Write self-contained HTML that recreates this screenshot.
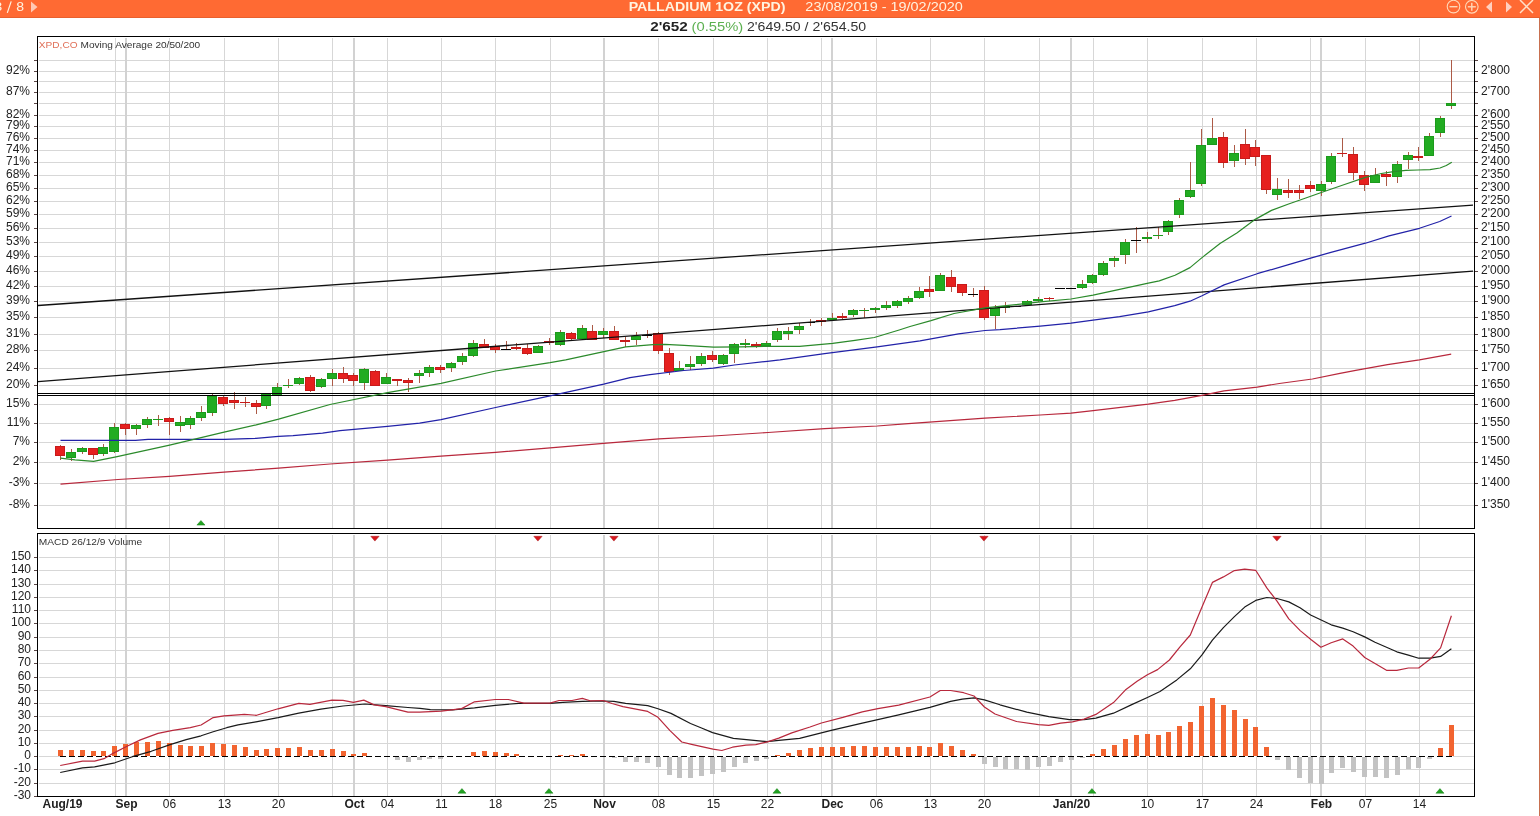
<!DOCTYPE html>
<html><head><meta charset="utf-8"><title>Palladium chart</title>
<style>html,body{margin:0;padding:0;background:#fff;width:1540px;height:816px;overflow:hidden}svg{display:block} svg{will-change:transform}</style>
</head><body>
<svg width="1540" height="816" viewBox="0 0 1540 816">
<rect width="1540" height="816" fill="#fff"/>
<g shape-rendering="crispEdges"><rect x="39" y="505" width="1435" height="1" fill="#d7d7d7"/><rect x="34" y="505" width="3" height="1" fill="#5a4646"/><rect x="1475" y="505" width="3" height="1" fill="#5a4646"/><rect x="39" y="483" width="1435" height="1" fill="#d7d7d7"/><rect x="34" y="483" width="3" height="1" fill="#5a4646"/><rect x="1475" y="483" width="3" height="1" fill="#5a4646"/><rect x="39" y="462" width="1435" height="1" fill="#d7d7d7"/><rect x="34" y="462" width="3" height="1" fill="#5a4646"/><rect x="1475" y="462" width="3" height="1" fill="#5a4646"/><rect x="39" y="442" width="1435" height="1" fill="#d7d7d7"/><rect x="34" y="442" width="3" height="1" fill="#5a4646"/><rect x="1475" y="442" width="3" height="1" fill="#5a4646"/><rect x="39" y="423" width="1435" height="1" fill="#d7d7d7"/><rect x="34" y="423" width="3" height="1" fill="#5a4646"/><rect x="1475" y="423" width="3" height="1" fill="#5a4646"/><rect x="39" y="404" width="1435" height="1" fill="#d7d7d7"/><rect x="34" y="404" width="3" height="1" fill="#5a4646"/><rect x="1475" y="404" width="3" height="1" fill="#5a4646"/><rect x="39" y="385" width="1435" height="1" fill="#d7d7d7"/><rect x="34" y="385" width="3" height="1" fill="#5a4646"/><rect x="1475" y="385" width="3" height="1" fill="#5a4646"/><rect x="39" y="368" width="1435" height="1" fill="#d7d7d7"/><rect x="34" y="368" width="3" height="1" fill="#5a4646"/><rect x="1475" y="368" width="3" height="1" fill="#5a4646"/><rect x="39" y="350" width="1435" height="1" fill="#d7d7d7"/><rect x="34" y="350" width="3" height="1" fill="#5a4646"/><rect x="1475" y="350" width="3" height="1" fill="#5a4646"/><rect x="39" y="334" width="1435" height="1" fill="#d7d7d7"/><rect x="34" y="334" width="3" height="1" fill="#5a4646"/><rect x="1475" y="334" width="3" height="1" fill="#5a4646"/><rect x="39" y="317" width="1435" height="1" fill="#d7d7d7"/><rect x="34" y="317" width="3" height="1" fill="#5a4646"/><rect x="1475" y="317" width="3" height="1" fill="#5a4646"/><rect x="39" y="301" width="1435" height="1" fill="#d7d7d7"/><rect x="34" y="301" width="3" height="1" fill="#5a4646"/><rect x="1475" y="301" width="3" height="1" fill="#5a4646"/><rect x="39" y="286" width="1435" height="1" fill="#d7d7d7"/><rect x="34" y="286" width="3" height="1" fill="#5a4646"/><rect x="1475" y="286" width="3" height="1" fill="#5a4646"/><rect x="39" y="271" width="1435" height="1" fill="#d7d7d7"/><rect x="34" y="271" width="3" height="1" fill="#5a4646"/><rect x="1475" y="271" width="3" height="1" fill="#5a4646"/><rect x="39" y="256" width="1435" height="1" fill="#d7d7d7"/><rect x="34" y="256" width="3" height="1" fill="#5a4646"/><rect x="1475" y="256" width="3" height="1" fill="#5a4646"/><rect x="39" y="242" width="1435" height="1" fill="#d7d7d7"/><rect x="34" y="242" width="3" height="1" fill="#5a4646"/><rect x="1475" y="242" width="3" height="1" fill="#5a4646"/><rect x="39" y="228" width="1435" height="1" fill="#d7d7d7"/><rect x="34" y="228" width="3" height="1" fill="#5a4646"/><rect x="1475" y="228" width="3" height="1" fill="#5a4646"/><rect x="39" y="214" width="1435" height="1" fill="#d7d7d7"/><rect x="34" y="214" width="3" height="1" fill="#5a4646"/><rect x="1475" y="214" width="3" height="1" fill="#5a4646"/><rect x="39" y="201" width="1435" height="1" fill="#d7d7d7"/><rect x="34" y="201" width="3" height="1" fill="#5a4646"/><rect x="1475" y="201" width="3" height="1" fill="#5a4646"/><rect x="39" y="188" width="1435" height="1" fill="#d7d7d7"/><rect x="34" y="188" width="3" height="1" fill="#5a4646"/><rect x="1475" y="188" width="3" height="1" fill="#5a4646"/><rect x="39" y="175" width="1435" height="1" fill="#d7d7d7"/><rect x="34" y="175" width="3" height="1" fill="#5a4646"/><rect x="1475" y="175" width="3" height="1" fill="#5a4646"/><rect x="39" y="162" width="1435" height="1" fill="#d7d7d7"/><rect x="34" y="162" width="3" height="1" fill="#5a4646"/><rect x="1475" y="162" width="3" height="1" fill="#5a4646"/><rect x="39" y="150" width="1435" height="1" fill="#d7d7d7"/><rect x="34" y="150" width="3" height="1" fill="#5a4646"/><rect x="1475" y="150" width="3" height="1" fill="#5a4646"/><rect x="39" y="138" width="1435" height="1" fill="#d7d7d7"/><rect x="34" y="138" width="3" height="1" fill="#5a4646"/><rect x="1475" y="138" width="3" height="1" fill="#5a4646"/><rect x="39" y="126" width="1435" height="1" fill="#d7d7d7"/><rect x="34" y="126" width="3" height="1" fill="#5a4646"/><rect x="1475" y="126" width="3" height="1" fill="#5a4646"/><rect x="39" y="115" width="1435" height="1" fill="#d7d7d7"/><rect x="34" y="115" width="3" height="1" fill="#5a4646"/><rect x="1475" y="115" width="3" height="1" fill="#5a4646"/><rect x="39" y="103" width="1435" height="1" fill="#d7d7d7"/><rect x="34" y="103" width="3" height="1" fill="#5a4646"/><rect x="1475" y="103" width="3" height="1" fill="#5a4646"/><rect x="39" y="92" width="1435" height="1" fill="#d7d7d7"/><rect x="34" y="92" width="3" height="1" fill="#5a4646"/><rect x="1475" y="92" width="3" height="1" fill="#5a4646"/><rect x="39" y="81" width="1435" height="1" fill="#d7d7d7"/><rect x="34" y="81" width="3" height="1" fill="#5a4646"/><rect x="1475" y="81" width="3" height="1" fill="#5a4646"/><rect x="39" y="71" width="1435" height="1" fill="#d7d7d7"/><rect x="34" y="71" width="3" height="1" fill="#5a4646"/><rect x="1475" y="71" width="3" height="1" fill="#5a4646"/><rect x="39" y="60" width="1435" height="1" fill="#d7d7d7"/><rect x="34" y="60" width="3" height="1" fill="#5a4646"/><rect x="1475" y="60" width="3" height="1" fill="#5a4646"/><rect x="115" y="38" width="1" height="490" fill="#d7d7d7"/><rect x="169" y="38" width="1" height="490" fill="#d7d7d7"/><rect x="224" y="38" width="1" height="490" fill="#d7d7d7"/><rect x="278" y="38" width="1" height="490" fill="#d7d7d7"/><rect x="332" y="38" width="1" height="490" fill="#d7d7d7"/><rect x="387" y="38" width="1" height="490" fill="#d7d7d7"/><rect x="441" y="38" width="1" height="490" fill="#d7d7d7"/><rect x="495" y="38" width="1" height="490" fill="#d7d7d7"/><rect x="550" y="38" width="1" height="490" fill="#d7d7d7"/><rect x="658" y="38" width="1" height="490" fill="#d7d7d7"/><rect x="713" y="38" width="1" height="490" fill="#d7d7d7"/><rect x="767" y="38" width="1" height="490" fill="#d7d7d7"/><rect x="821" y="38" width="1" height="490" fill="#d7d7d7"/><rect x="876" y="38" width="1" height="490" fill="#d7d7d7"/><rect x="930" y="38" width="1" height="490" fill="#d7d7d7"/><rect x="984" y="38" width="1" height="490" fill="#d7d7d7"/><rect x="1039" y="38" width="1" height="490" fill="#d7d7d7"/><rect x="1093" y="38" width="1" height="490" fill="#d7d7d7"/><rect x="1147" y="38" width="1" height="490" fill="#d7d7d7"/><rect x="1202" y="38" width="1" height="490" fill="#d7d7d7"/><rect x="1256" y="38" width="1" height="490" fill="#d7d7d7"/><rect x="1310" y="38" width="1" height="490" fill="#d7d7d7"/><rect x="1365" y="38" width="1" height="490" fill="#d7d7d7"/><rect x="1419" y="38" width="1" height="490" fill="#d7d7d7"/><rect x="125" y="38" width="2" height="490" fill="#d2d2d2"/><rect x="353" y="38" width="2" height="490" fill="#d2d2d2"/><rect x="603" y="38" width="2" height="490" fill="#d2d2d2"/><rect x="831" y="38" width="2" height="490" fill="#d2d2d2"/><rect x="1070" y="38" width="2" height="490" fill="#d2d2d2"/><rect x="1320" y="38" width="2" height="490" fill="#d2d2d2"/><rect x="39" y="783" width="1435" height="1" fill="#d7d7d7"/><rect x="34" y="783" width="3" height="1" fill="#5a4646"/><rect x="39" y="769" width="1435" height="1" fill="#d7d7d7"/><rect x="34" y="769" width="3" height="1" fill="#5a4646"/><rect x="39" y="756" width="21" height="1" fill="#d7d7d7"/><rect x="1453" y="756" width="21" height="1" fill="#d7d7d7"/><rect x="34" y="756" width="3" height="1" fill="#5a4646"/><rect x="39" y="743" width="1435" height="1" fill="#d7d7d7"/><rect x="34" y="743" width="3" height="1" fill="#5a4646"/><rect x="39" y="730" width="1435" height="1" fill="#d7d7d7"/><rect x="34" y="730" width="3" height="1" fill="#5a4646"/><rect x="39" y="716" width="1435" height="1" fill="#d7d7d7"/><rect x="34" y="716" width="3" height="1" fill="#5a4646"/><rect x="39" y="703" width="1435" height="1" fill="#d7d7d7"/><rect x="34" y="703" width="3" height="1" fill="#5a4646"/><rect x="39" y="690" width="1435" height="1" fill="#d7d7d7"/><rect x="34" y="690" width="3" height="1" fill="#5a4646"/><rect x="39" y="677" width="1435" height="1" fill="#d7d7d7"/><rect x="34" y="677" width="3" height="1" fill="#5a4646"/><rect x="39" y="663" width="1435" height="1" fill="#d7d7d7"/><rect x="34" y="663" width="3" height="1" fill="#5a4646"/><rect x="39" y="650" width="1435" height="1" fill="#d7d7d7"/><rect x="34" y="650" width="3" height="1" fill="#5a4646"/><rect x="39" y="637" width="1435" height="1" fill="#d7d7d7"/><rect x="34" y="637" width="3" height="1" fill="#5a4646"/><rect x="39" y="623" width="1435" height="1" fill="#d7d7d7"/><rect x="34" y="623" width="3" height="1" fill="#5a4646"/><rect x="39" y="610" width="1435" height="1" fill="#d7d7d7"/><rect x="34" y="610" width="3" height="1" fill="#5a4646"/><rect x="39" y="597" width="1435" height="1" fill="#d7d7d7"/><rect x="34" y="597" width="3" height="1" fill="#5a4646"/><rect x="39" y="584" width="1435" height="1" fill="#d7d7d7"/><rect x="34" y="584" width="3" height="1" fill="#5a4646"/><rect x="39" y="570" width="1435" height="1" fill="#d7d7d7"/><rect x="34" y="570" width="3" height="1" fill="#5a4646"/><rect x="39" y="557" width="1435" height="1" fill="#d7d7d7"/><rect x="34" y="557" width="3" height="1" fill="#5a4646"/><rect x="34" y="796" width="3" height="1" fill="#5a4646"/><rect x="115" y="535" width="1" height="261" fill="#d7d7d7"/><rect x="169" y="535" width="1" height="261" fill="#d7d7d7"/><rect x="224" y="535" width="1" height="261" fill="#d7d7d7"/><rect x="278" y="535" width="1" height="261" fill="#d7d7d7"/><rect x="332" y="535" width="1" height="261" fill="#d7d7d7"/><rect x="387" y="535" width="1" height="261" fill="#d7d7d7"/><rect x="441" y="535" width="1" height="261" fill="#d7d7d7"/><rect x="495" y="535" width="1" height="261" fill="#d7d7d7"/><rect x="550" y="535" width="1" height="261" fill="#d7d7d7"/><rect x="658" y="535" width="1" height="261" fill="#d7d7d7"/><rect x="713" y="535" width="1" height="261" fill="#d7d7d7"/><rect x="767" y="535" width="1" height="261" fill="#d7d7d7"/><rect x="821" y="535" width="1" height="261" fill="#d7d7d7"/><rect x="876" y="535" width="1" height="261" fill="#d7d7d7"/><rect x="930" y="535" width="1" height="261" fill="#d7d7d7"/><rect x="984" y="535" width="1" height="261" fill="#d7d7d7"/><rect x="1039" y="535" width="1" height="261" fill="#d7d7d7"/><rect x="1093" y="535" width="1" height="261" fill="#d7d7d7"/><rect x="1147" y="535" width="1" height="261" fill="#d7d7d7"/><rect x="1202" y="535" width="1" height="261" fill="#d7d7d7"/><rect x="1256" y="535" width="1" height="261" fill="#d7d7d7"/><rect x="1310" y="535" width="1" height="261" fill="#d7d7d7"/><rect x="1365" y="535" width="1" height="261" fill="#d7d7d7"/><rect x="1419" y="535" width="1" height="261" fill="#d7d7d7"/><rect x="125" y="535" width="2" height="261" fill="#d2d2d2"/><rect x="353" y="535" width="2" height="261" fill="#d2d2d2"/><rect x="603" y="535" width="2" height="261" fill="#d2d2d2"/><rect x="831" y="535" width="2" height="261" fill="#d2d2d2"/><rect x="1070" y="535" width="2" height="261" fill="#d2d2d2"/><rect x="1320" y="535" width="2" height="261" fill="#d2d2d2"/><rect x="60" y="445" width="1" height="15" fill="#ac5a46"/><rect x="55" y="446" width="10" height="10" fill="#c81a1a"/><rect x="56" y="447" width="8" height="8" fill="#e6201e"/><rect x="71" y="449" width="1" height="12" fill="#ac5a46"/><rect x="66" y="452" width="10" height="6" fill="#1c9a1c"/><rect x="67" y="453" width="8" height="4" fill="#22ac22"/><rect x="82" y="447" width="1" height="7" fill="#ac5a46"/><rect x="77" y="448" width="10" height="4" fill="#1c9a1c"/><rect x="78" y="449" width="8" height="2" fill="#22ac22"/><rect x="93" y="448" width="1" height="11" fill="#ac5a46"/><rect x="88" y="448" width="10" height="7" fill="#c81a1a"/><rect x="89" y="449" width="8" height="5" fill="#e6201e"/><rect x="103" y="444" width="1" height="12" fill="#ac5a46"/><rect x="98" y="447" width="10" height="7" fill="#1c9a1c"/><rect x="99" y="448" width="8" height="5" fill="#22ac22"/><rect x="114" y="423" width="1" height="30" fill="#ac5a46"/><rect x="109" y="427" width="10" height="25" fill="#1c9a1c"/><rect x="110" y="428" width="8" height="23" fill="#22ac22"/><rect x="125" y="423" width="1" height="12" fill="#ac5a46"/><rect x="120" y="424" width="10" height="5" fill="#c81a1a"/><rect x="121" y="425" width="8" height="3" fill="#e6201e"/><rect x="136" y="424" width="1" height="11" fill="#ac5a46"/><rect x="131" y="425" width="10" height="4" fill="#1c9a1c"/><rect x="132" y="426" width="8" height="2" fill="#22ac22"/><rect x="147" y="417" width="1" height="11" fill="#ac5a46"/><rect x="142" y="419" width="10" height="6" fill="#1c9a1c"/><rect x="143" y="420" width="8" height="4" fill="#22ac22"/><rect x="158" y="415" width="1" height="11" fill="#ac5a46"/><rect x="153" y="419" width="10" height="1" fill="#1c9a1c"/><rect x="169" y="417" width="1" height="18" fill="#ac5a46"/><rect x="164" y="418" width="10" height="4" fill="#c81a1a"/><rect x="165" y="419" width="8" height="2" fill="#e6201e"/><rect x="180" y="416" width="1" height="16" fill="#ac5a46"/><rect x="175" y="422" width="10" height="4" fill="#1c9a1c"/><rect x="176" y="423" width="8" height="2" fill="#22ac22"/><rect x="190" y="416" width="1" height="13" fill="#ac5a46"/><rect x="185" y="418" width="10" height="7" fill="#1c9a1c"/><rect x="186" y="419" width="8" height="5" fill="#22ac22"/><rect x="201" y="406" width="1" height="15" fill="#ac5a46"/><rect x="196" y="412" width="10" height="6" fill="#1c9a1c"/><rect x="197" y="413" width="8" height="4" fill="#22ac22"/><rect x="212" y="394" width="1" height="22" fill="#ac5a46"/><rect x="207" y="396" width="10" height="17" fill="#1c9a1c"/><rect x="208" y="397" width="8" height="15" fill="#22ac22"/><rect x="223" y="396" width="1" height="10" fill="#ac5a46"/><rect x="218" y="397" width="10" height="7" fill="#c81a1a"/><rect x="219" y="398" width="8" height="5" fill="#e6201e"/><rect x="234" y="392" width="1" height="17" fill="#ac5a46"/><rect x="229" y="400" width="10" height="3" fill="#c81a1a"/><rect x="230" y="401" width="8" height="1" fill="#e6201e"/><rect x="245" y="397" width="1" height="10" fill="#ac5a46"/><rect x="240" y="402" width="10" height="1" fill="#c81a1a"/><rect x="256" y="400" width="1" height="14" fill="#ac5a46"/><rect x="251" y="403" width="10" height="4" fill="#c81a1a"/><rect x="252" y="404" width="8" height="2" fill="#e6201e"/><rect x="266" y="393" width="1" height="16" fill="#ac5a46"/><rect x="261" y="394" width="10" height="12" fill="#1c9a1c"/><rect x="262" y="395" width="8" height="10" fill="#22ac22"/><rect x="277" y="383" width="1" height="13" fill="#ac5a46"/><rect x="272" y="387" width="10" height="8" fill="#1c9a1c"/><rect x="273" y="388" width="8" height="6" fill="#22ac22"/><rect x="288" y="379" width="1" height="9" fill="#ac5a46"/><rect x="283" y="385" width="10" height="1" fill="#1c9a1c"/><rect x="299" y="377" width="1" height="8" fill="#ac5a46"/><rect x="294" y="378" width="10" height="6" fill="#1c9a1c"/><rect x="295" y="379" width="8" height="4" fill="#22ac22"/><rect x="310" y="375" width="1" height="17" fill="#ac5a46"/><rect x="305" y="377" width="10" height="14" fill="#c81a1a"/><rect x="306" y="378" width="8" height="12" fill="#e6201e"/><rect x="321" y="378" width="1" height="10" fill="#ac5a46"/><rect x="316" y="379" width="10" height="8" fill="#1c9a1c"/><rect x="317" y="380" width="8" height="6" fill="#22ac22"/><rect x="332" y="369" width="1" height="17" fill="#ac5a46"/><rect x="327" y="373" width="10" height="6" fill="#1c9a1c"/><rect x="328" y="374" width="8" height="4" fill="#22ac22"/><rect x="343" y="367" width="1" height="16" fill="#ac5a46"/><rect x="338" y="373" width="10" height="6" fill="#c81a1a"/><rect x="339" y="374" width="8" height="4" fill="#e6201e"/><rect x="353" y="373" width="1" height="13" fill="#ac5a46"/><rect x="348" y="375" width="10" height="6" fill="#c81a1a"/><rect x="349" y="376" width="8" height="4" fill="#e6201e"/><rect x="364" y="368" width="1" height="22" fill="#ac5a46"/><rect x="359" y="369" width="10" height="14" fill="#1c9a1c"/><rect x="360" y="370" width="8" height="12" fill="#22ac22"/><rect x="375" y="370" width="1" height="16" fill="#ac5a46"/><rect x="370" y="371" width="10" height="15" fill="#c81a1a"/><rect x="371" y="372" width="8" height="13" fill="#e6201e"/><rect x="386" y="373" width="1" height="11" fill="#ac5a46"/><rect x="381" y="377" width="10" height="7" fill="#1c9a1c"/><rect x="382" y="378" width="8" height="5" fill="#22ac22"/><rect x="397" y="379" width="1" height="7" fill="#ac5a46"/><rect x="392" y="379" width="10" height="2" fill="#c81a1a"/><rect x="408" y="378" width="1" height="14" fill="#ac5a46"/><rect x="403" y="380" width="10" height="3" fill="#c81a1a"/><rect x="404" y="381" width="8" height="1" fill="#e6201e"/><rect x="419" y="370" width="1" height="13" fill="#ac5a46"/><rect x="414" y="373" width="10" height="3" fill="#1c9a1c"/><rect x="415" y="374" width="8" height="1" fill="#22ac22"/><rect x="429" y="365" width="1" height="12" fill="#ac5a46"/><rect x="424" y="367" width="10" height="6" fill="#1c9a1c"/><rect x="425" y="368" width="8" height="4" fill="#22ac22"/><rect x="440" y="365" width="1" height="8" fill="#ac5a46"/><rect x="435" y="367" width="10" height="3" fill="#c81a1a"/><rect x="436" y="368" width="8" height="1" fill="#e6201e"/><rect x="451" y="362" width="1" height="10" fill="#ac5a46"/><rect x="446" y="363" width="10" height="5" fill="#1c9a1c"/><rect x="447" y="364" width="8" height="3" fill="#22ac22"/><rect x="462" y="353" width="1" height="12" fill="#ac5a46"/><rect x="457" y="356" width="10" height="6" fill="#1c9a1c"/><rect x="458" y="357" width="8" height="4" fill="#22ac22"/><rect x="473" y="340" width="1" height="17" fill="#ac5a46"/><rect x="468" y="343" width="10" height="13" fill="#1c9a1c"/><rect x="469" y="344" width="8" height="11" fill="#22ac22"/><rect x="484" y="339" width="1" height="9" fill="#ac5a46"/><rect x="479" y="344" width="10" height="4" fill="#c81a1a"/><rect x="480" y="345" width="8" height="2" fill="#e6201e"/><rect x="495" y="344" width="1" height="9" fill="#ac5a46"/><rect x="490" y="346" width="10" height="4" fill="#c81a1a"/><rect x="491" y="347" width="8" height="2" fill="#e6201e"/><rect x="506" y="341" width="1" height="8" fill="#ac5a46"/><rect x="501" y="349" width="10" height="1" fill="#000"/><rect x="516" y="343" width="1" height="7" fill="#ac5a46"/><rect x="511" y="347" width="10" height="2" fill="#c81a1a"/><rect x="527" y="344" width="1" height="11" fill="#ac5a46"/><rect x="522" y="348" width="10" height="6" fill="#c81a1a"/><rect x="523" y="349" width="8" height="4" fill="#e6201e"/><rect x="538" y="345" width="1" height="8" fill="#ac5a46"/><rect x="533" y="346" width="10" height="7" fill="#1c9a1c"/><rect x="534" y="347" width="8" height="5" fill="#22ac22"/><rect x="549" y="338" width="1" height="7" fill="#ac5a46"/><rect x="544" y="341" width="10" height="2" fill="#c81a1a"/><rect x="560" y="330" width="1" height="16" fill="#ac5a46"/><rect x="555" y="332" width="10" height="13" fill="#1c9a1c"/><rect x="556" y="333" width="8" height="11" fill="#22ac22"/><rect x="571" y="332" width="1" height="9" fill="#ac5a46"/><rect x="566" y="333" width="10" height="6" fill="#c81a1a"/><rect x="567" y="334" width="8" height="4" fill="#e6201e"/><rect x="582" y="325" width="1" height="15" fill="#ac5a46"/><rect x="577" y="328" width="10" height="11" fill="#1c9a1c"/><rect x="578" y="329" width="8" height="9" fill="#22ac22"/><rect x="592" y="325" width="1" height="15" fill="#ac5a46"/><rect x="587" y="331" width="10" height="9" fill="#c81a1a"/><rect x="588" y="332" width="8" height="7" fill="#e6201e"/><rect x="603" y="328" width="1" height="10" fill="#ac5a46"/><rect x="598" y="331" width="10" height="4" fill="#1c9a1c"/><rect x="599" y="332" width="8" height="2" fill="#22ac22"/><rect x="614" y="326" width="1" height="14" fill="#ac5a46"/><rect x="609" y="331" width="10" height="9" fill="#c81a1a"/><rect x="610" y="332" width="8" height="7" fill="#e6201e"/><rect x="625" y="337" width="1" height="10" fill="#ac5a46"/><rect x="620" y="340" width="10" height="2" fill="#c81a1a"/><rect x="636" y="332" width="1" height="13" fill="#ac5a46"/><rect x="631" y="336" width="10" height="4" fill="#1c9a1c"/><rect x="632" y="337" width="8" height="2" fill="#22ac22"/><rect x="647" y="330" width="1" height="8" fill="#ac5a46"/><rect x="642" y="335" width="10" height="1" fill="#000"/><rect x="658" y="332" width="1" height="22" fill="#ac5a46"/><rect x="653" y="333" width="10" height="18" fill="#c81a1a"/><rect x="654" y="334" width="8" height="16" fill="#e6201e"/><rect x="669" y="348" width="1" height="27" fill="#ac5a46"/><rect x="664" y="353" width="10" height="19" fill="#c81a1a"/><rect x="665" y="354" width="8" height="17" fill="#e6201e"/><rect x="679" y="361" width="1" height="10" fill="#ac5a46"/><rect x="674" y="368" width="10" height="3" fill="#1c9a1c"/><rect x="675" y="369" width="8" height="1" fill="#22ac22"/><rect x="690" y="356" width="1" height="14" fill="#ac5a46"/><rect x="685" y="364" width="10" height="3" fill="#1c9a1c"/><rect x="686" y="365" width="8" height="1" fill="#22ac22"/><rect x="701" y="353" width="1" height="13" fill="#ac5a46"/><rect x="696" y="356" width="10" height="8" fill="#1c9a1c"/><rect x="697" y="357" width="8" height="6" fill="#22ac22"/><rect x="712" y="351" width="1" height="11" fill="#ac5a46"/><rect x="707" y="355" width="10" height="5" fill="#c81a1a"/><rect x="708" y="356" width="8" height="3" fill="#e6201e"/><rect x="723" y="354" width="1" height="11" fill="#ac5a46"/><rect x="718" y="355" width="10" height="9" fill="#1c9a1c"/><rect x="719" y="356" width="8" height="7" fill="#22ac22"/><rect x="734" y="343" width="1" height="20" fill="#ac5a46"/><rect x="729" y="344" width="10" height="10" fill="#1c9a1c"/><rect x="730" y="345" width="8" height="8" fill="#22ac22"/><rect x="745" y="339" width="1" height="9" fill="#ac5a46"/><rect x="740" y="343" width="10" height="2" fill="#1c9a1c"/><rect x="756" y="342" width="1" height="6" fill="#ac5a46"/><rect x="751" y="344" width="10" height="2" fill="#c81a1a"/><rect x="766" y="341" width="1" height="6" fill="#ac5a46"/><rect x="761" y="343" width="10" height="3" fill="#1c9a1c"/><rect x="762" y="344" width="8" height="1" fill="#22ac22"/><rect x="777" y="328" width="1" height="14" fill="#ac5a46"/><rect x="772" y="331" width="10" height="9" fill="#1c9a1c"/><rect x="773" y="332" width="8" height="7" fill="#22ac22"/><rect x="788" y="327" width="1" height="13" fill="#ac5a46"/><rect x="783" y="331" width="10" height="3" fill="#1c9a1c"/><rect x="784" y="332" width="8" height="1" fill="#22ac22"/><rect x="799" y="323" width="1" height="11" fill="#ac5a46"/><rect x="794" y="326" width="10" height="4" fill="#1c9a1c"/><rect x="795" y="327" width="8" height="2" fill="#22ac22"/><rect x="810" y="319" width="1" height="7" fill="#ac5a46"/><rect x="805" y="322" width="10" height="1" fill="#000"/><rect x="821" y="318" width="1" height="8" fill="#ac5a46"/><rect x="816" y="320" width="10" height="2" fill="#c81a1a"/><rect x="832" y="313" width="1" height="7" fill="#ac5a46"/><rect x="827" y="318" width="10" height="2" fill="#1c9a1c"/><rect x="842" y="313" width="1" height="6" fill="#ac5a46"/><rect x="837" y="316" width="10" height="2" fill="#c81a1a"/><rect x="853" y="309" width="1" height="8" fill="#ac5a46"/><rect x="848" y="310" width="10" height="5" fill="#1c9a1c"/><rect x="849" y="311" width="8" height="3" fill="#22ac22"/><rect x="864" y="308" width="1" height="10" fill="#ac5a46"/><rect x="859" y="310" width="10" height="1" fill="#1c9a1c"/><rect x="875" y="307" width="1" height="6" fill="#ac5a46"/><rect x="870" y="308" width="10" height="2" fill="#1c9a1c"/><rect x="886" y="301" width="1" height="9" fill="#ac5a46"/><rect x="881" y="305" width="10" height="3" fill="#1c9a1c"/><rect x="882" y="306" width="8" height="1" fill="#22ac22"/><rect x="897" y="300" width="1" height="8" fill="#ac5a46"/><rect x="892" y="301" width="10" height="5" fill="#1c9a1c"/><rect x="893" y="302" width="8" height="3" fill="#22ac22"/><rect x="908" y="296" width="1" height="8" fill="#ac5a46"/><rect x="903" y="298" width="10" height="4" fill="#1c9a1c"/><rect x="904" y="299" width="8" height="2" fill="#22ac22"/><rect x="919" y="287" width="1" height="12" fill="#ac5a46"/><rect x="914" y="291" width="10" height="7" fill="#1c9a1c"/><rect x="915" y="292" width="8" height="5" fill="#22ac22"/><rect x="929" y="276" width="1" height="21" fill="#ac5a46"/><rect x="924" y="289" width="10" height="3" fill="#c81a1a"/><rect x="925" y="290" width="8" height="1" fill="#e6201e"/><rect x="940" y="273" width="1" height="18" fill="#ac5a46"/><rect x="935" y="275" width="10" height="16" fill="#1c9a1c"/><rect x="936" y="276" width="8" height="14" fill="#22ac22"/><rect x="951" y="270" width="1" height="22" fill="#ac5a46"/><rect x="946" y="277" width="10" height="10" fill="#c81a1a"/><rect x="947" y="278" width="8" height="8" fill="#e6201e"/><rect x="962" y="284" width="1" height="12" fill="#ac5a46"/><rect x="957" y="284" width="10" height="9" fill="#c81a1a"/><rect x="958" y="285" width="8" height="7" fill="#e6201e"/><rect x="973" y="288" width="1" height="9" fill="#ac5a46"/><rect x="968" y="294" width="10" height="1" fill="#000"/><rect x="984" y="286" width="1" height="34" fill="#ac5a46"/><rect x="979" y="290" width="10" height="28" fill="#c81a1a"/><rect x="980" y="291" width="8" height="26" fill="#e6201e"/><rect x="995" y="305" width="1" height="24" fill="#ac5a46"/><rect x="990" y="308" width="10" height="8" fill="#1c9a1c"/><rect x="991" y="309" width="8" height="6" fill="#22ac22"/><rect x="1005" y="302" width="1" height="11" fill="#ac5a46"/><rect x="1000" y="306" width="10" height="2" fill="#1c9a1c"/><rect x="1011" y="306" width="10" height="1" fill="#000"/><rect x="1027" y="300" width="1" height="6" fill="#ac5a46"/><rect x="1022" y="301" width="10" height="4" fill="#1c9a1c"/><rect x="1023" y="302" width="8" height="2" fill="#22ac22"/><rect x="1038" y="297" width="1" height="5" fill="#ac5a46"/><rect x="1033" y="299" width="10" height="2" fill="#1c9a1c"/><rect x="1049" y="297" width="1" height="4" fill="#ac5a46"/><rect x="1044" y="298" width="10" height="1" fill="#c81a1a"/><rect x="1055" y="288" width="10" height="1" fill="#000"/><rect x="1066" y="288" width="10" height="1" fill="#000"/><rect x="1082" y="280" width="1" height="9" fill="#ac5a46"/><rect x="1077" y="284" width="10" height="4" fill="#1c9a1c"/><rect x="1078" y="285" width="8" height="2" fill="#22ac22"/><rect x="1092" y="274" width="1" height="10" fill="#ac5a46"/><rect x="1087" y="275" width="10" height="8" fill="#1c9a1c"/><rect x="1088" y="276" width="8" height="6" fill="#22ac22"/><rect x="1103" y="261" width="1" height="15" fill="#ac5a46"/><rect x="1098" y="263" width="10" height="12" fill="#1c9a1c"/><rect x="1099" y="264" width="8" height="10" fill="#22ac22"/><rect x="1114" y="256" width="1" height="11" fill="#ac5a46"/><rect x="1109" y="258" width="10" height="3" fill="#1c9a1c"/><rect x="1110" y="259" width="8" height="1" fill="#22ac22"/><rect x="1125" y="239" width="1" height="25" fill="#ac5a46"/><rect x="1120" y="242" width="10" height="13" fill="#1c9a1c"/><rect x="1121" y="243" width="8" height="11" fill="#22ac22"/><rect x="1136" y="227" width="1" height="26" fill="#ac5a46"/><rect x="1131" y="240" width="10" height="1" fill="#000"/><rect x="1147" y="232" width="1" height="11" fill="#ac5a46"/><rect x="1142" y="237" width="10" height="2" fill="#1c9a1c"/><rect x="1158" y="227" width="1" height="12" fill="#ac5a46"/><rect x="1153" y="235" width="10" height="1" fill="#1c9a1c"/><rect x="1168" y="220" width="1" height="15" fill="#ac5a46"/><rect x="1163" y="221" width="10" height="11" fill="#1c9a1c"/><rect x="1164" y="222" width="8" height="9" fill="#22ac22"/><rect x="1179" y="198" width="1" height="20" fill="#ac5a46"/><rect x="1174" y="200" width="10" height="15" fill="#1c9a1c"/><rect x="1175" y="201" width="8" height="13" fill="#22ac22"/><rect x="1190" y="162" width="1" height="36" fill="#ac5a46"/><rect x="1185" y="190" width="10" height="7" fill="#1c9a1c"/><rect x="1186" y="191" width="8" height="5" fill="#22ac22"/><rect x="1201" y="129" width="1" height="57" fill="#ac5a46"/><rect x="1196" y="145" width="10" height="39" fill="#1c9a1c"/><rect x="1197" y="146" width="8" height="37" fill="#22ac22"/><rect x="1212" y="118" width="1" height="27" fill="#ac5a46"/><rect x="1207" y="138" width="10" height="7" fill="#1c9a1c"/><rect x="1208" y="139" width="8" height="5" fill="#22ac22"/><rect x="1223" y="132" width="1" height="36" fill="#ac5a46"/><rect x="1218" y="137" width="10" height="26" fill="#c81a1a"/><rect x="1219" y="138" width="8" height="24" fill="#e6201e"/><rect x="1234" y="145" width="1" height="22" fill="#ac5a46"/><rect x="1229" y="153" width="10" height="8" fill="#1c9a1c"/><rect x="1230" y="154" width="8" height="6" fill="#22ac22"/><rect x="1245" y="129" width="1" height="36" fill="#ac5a46"/><rect x="1240" y="144" width="10" height="15" fill="#c81a1a"/><rect x="1241" y="145" width="8" height="13" fill="#e6201e"/><rect x="1255" y="140" width="1" height="26" fill="#ac5a46"/><rect x="1250" y="147" width="10" height="10" fill="#c81a1a"/><rect x="1251" y="148" width="8" height="8" fill="#e6201e"/><rect x="1266" y="155" width="1" height="39" fill="#ac5a46"/><rect x="1261" y="155" width="10" height="35" fill="#c81a1a"/><rect x="1262" y="156" width="8" height="33" fill="#e6201e"/><rect x="1277" y="178" width="1" height="22" fill="#ac5a46"/><rect x="1272" y="189" width="10" height="6" fill="#1c9a1c"/><rect x="1273" y="190" width="8" height="4" fill="#22ac22"/><rect x="1288" y="179" width="1" height="19" fill="#ac5a46"/><rect x="1283" y="190" width="10" height="3" fill="#c81a1a"/><rect x="1284" y="191" width="8" height="1" fill="#e6201e"/><rect x="1299" y="185" width="1" height="14" fill="#ac5a46"/><rect x="1294" y="190" width="10" height="3" fill="#c81a1a"/><rect x="1295" y="191" width="8" height="1" fill="#e6201e"/><rect x="1310" y="181" width="1" height="11" fill="#ac5a46"/><rect x="1305" y="185" width="10" height="4" fill="#c81a1a"/><rect x="1306" y="186" width="8" height="2" fill="#e6201e"/><rect x="1321" y="181" width="1" height="15" fill="#ac5a46"/><rect x="1316" y="184" width="10" height="7" fill="#1c9a1c"/><rect x="1317" y="185" width="8" height="5" fill="#22ac22"/><rect x="1331" y="153" width="1" height="31" fill="#ac5a46"/><rect x="1326" y="156" width="10" height="26" fill="#1c9a1c"/><rect x="1327" y="157" width="8" height="24" fill="#22ac22"/><rect x="1342" y="138" width="1" height="19" fill="#ac5a46"/><rect x="1337" y="153" width="10" height="1" fill="#c81a1a"/><rect x="1353" y="147" width="1" height="33" fill="#ac5a46"/><rect x="1348" y="154" width="10" height="19" fill="#c81a1a"/><rect x="1349" y="155" width="8" height="17" fill="#e6201e"/><rect x="1364" y="171" width="1" height="20" fill="#ac5a46"/><rect x="1359" y="175" width="10" height="10" fill="#c81a1a"/><rect x="1360" y="176" width="8" height="8" fill="#e6201e"/><rect x="1375" y="168" width="1" height="15" fill="#ac5a46"/><rect x="1370" y="175" width="10" height="8" fill="#1c9a1c"/><rect x="1371" y="176" width="8" height="6" fill="#22ac22"/><rect x="1386" y="171" width="1" height="15" fill="#ac5a46"/><rect x="1381" y="174" width="10" height="3" fill="#c81a1a"/><rect x="1382" y="175" width="8" height="1" fill="#e6201e"/><rect x="1397" y="161" width="1" height="22" fill="#ac5a46"/><rect x="1392" y="164" width="10" height="13" fill="#1c9a1c"/><rect x="1393" y="165" width="8" height="11" fill="#22ac22"/><rect x="1408" y="152" width="1" height="17" fill="#ac5a46"/><rect x="1403" y="155" width="10" height="5" fill="#1c9a1c"/><rect x="1404" y="156" width="8" height="3" fill="#22ac22"/><rect x="1418" y="147" width="1" height="14" fill="#ac5a46"/><rect x="1413" y="156" width="10" height="2" fill="#c81a1a"/><rect x="1429" y="133" width="1" height="23" fill="#ac5a46"/><rect x="1424" y="136" width="10" height="20" fill="#1c9a1c"/><rect x="1425" y="137" width="8" height="18" fill="#22ac22"/><rect x="1440" y="116" width="1" height="21" fill="#ac5a46"/><rect x="1435" y="118" width="10" height="15" fill="#1c9a1c"/><rect x="1436" y="119" width="8" height="13" fill="#22ac22"/><rect x="1451" y="60" width="1" height="49" fill="#ac5a46"/><rect x="1446" y="103" width="10" height="3" fill="#1c9a1c"/><rect x="1447" y="104" width="8" height="1" fill="#22ac22"/><rect x="58" y="750" width="5" height="6" fill="#f26430"/><rect x="69" y="750" width="5" height="6" fill="#f26430"/><rect x="80" y="750" width="5" height="6" fill="#f26430"/><rect x="91" y="751" width="5" height="5" fill="#f26430"/><rect x="101" y="751" width="5" height="5" fill="#f26430"/><rect x="112" y="746" width="5" height="10" fill="#f26430"/><rect x="123" y="744" width="5" height="12" fill="#f26430"/><rect x="134" y="742" width="5" height="14" fill="#f26430"/><rect x="145" y="742" width="5" height="14" fill="#f26430"/><rect x="156" y="741" width="5" height="15" fill="#f26430"/><rect x="167" y="743" width="5" height="13" fill="#f26430"/><rect x="178" y="745" width="5" height="11" fill="#f26430"/><rect x="188" y="746" width="5" height="10" fill="#f26430"/><rect x="199" y="746" width="5" height="10" fill="#f26430"/><rect x="210" y="743" width="5" height="13" fill="#f26430"/><rect x="221" y="744" width="5" height="12" fill="#f26430"/><rect x="232" y="745" width="5" height="11" fill="#f26430"/><rect x="243" y="747" width="5" height="9" fill="#f26430"/><rect x="254" y="750" width="5" height="6" fill="#f26430"/><rect x="264" y="749" width="5" height="7" fill="#f26430"/><rect x="275" y="748" width="5" height="8" fill="#f26430"/><rect x="286" y="748" width="5" height="8" fill="#f26430"/><rect x="297" y="747" width="5" height="9" fill="#f26430"/><rect x="308" y="750" width="5" height="6" fill="#f26430"/><rect x="319" y="750" width="5" height="6" fill="#f26430"/><rect x="330" y="749" width="5" height="7" fill="#f26430"/><rect x="341" y="751" width="5" height="5" fill="#f26430"/><rect x="351" y="754" width="5" height="2" fill="#f26430"/><rect x="362" y="753" width="5" height="3" fill="#f26430"/><rect x="395" y="757" width="5" height="3" fill="#c3c3c3"/><rect x="406" y="757" width="5" height="5" fill="#c3c3c3"/><rect x="417" y="757" width="5" height="3" fill="#c3c3c3"/><rect x="427" y="757" width="5" height="2" fill="#c3c3c3"/><rect x="438" y="757" width="5" height="2" fill="#c3c3c3"/><rect x="471" y="752" width="5" height="4" fill="#f26430"/><rect x="482" y="751" width="5" height="5" fill="#f26430"/><rect x="493" y="752" width="5" height="4" fill="#f26430"/><rect x="504" y="753" width="5" height="3" fill="#f26430"/><rect x="514" y="754" width="5" height="2" fill="#f26430"/><rect x="558" y="755" width="5" height="1" fill="#f26430"/><rect x="569" y="755" width="5" height="1" fill="#f26430"/><rect x="580" y="754" width="5" height="2" fill="#f26430"/><rect x="612" y="757" width="5" height="1" fill="#c3c3c3"/><rect x="623" y="757" width="5" height="5" fill="#c3c3c3"/><rect x="634" y="757" width="5" height="5" fill="#c3c3c3"/><rect x="645" y="757" width="5" height="6" fill="#c3c3c3"/><rect x="656" y="757" width="5" height="10" fill="#c3c3c3"/><rect x="667" y="757" width="5" height="18" fill="#c3c3c3"/><rect x="677" y="757" width="5" height="21" fill="#c3c3c3"/><rect x="688" y="757" width="5" height="21" fill="#c3c3c3"/><rect x="699" y="757" width="5" height="19" fill="#c3c3c3"/><rect x="710" y="757" width="5" height="17" fill="#c3c3c3"/><rect x="721" y="757" width="5" height="15" fill="#c3c3c3"/><rect x="732" y="757" width="5" height="10" fill="#c3c3c3"/><rect x="743" y="757" width="5" height="6" fill="#c3c3c3"/><rect x="754" y="757" width="5" height="4" fill="#c3c3c3"/><rect x="764" y="757" width="5" height="2" fill="#c3c3c3"/><rect x="775" y="755" width="5" height="1" fill="#f26430"/><rect x="786" y="753" width="5" height="3" fill="#f26430"/><rect x="797" y="750" width="5" height="6" fill="#f26430"/><rect x="808" y="748" width="5" height="8" fill="#f26430"/><rect x="819" y="747" width="5" height="9" fill="#f26430"/><rect x="830" y="747" width="5" height="9" fill="#f26430"/><rect x="840" y="747" width="5" height="9" fill="#f26430"/><rect x="851" y="746" width="5" height="10" fill="#f26430"/><rect x="862" y="746" width="5" height="10" fill="#f26430"/><rect x="873" y="747" width="5" height="9" fill="#f26430"/><rect x="884" y="747" width="5" height="9" fill="#f26430"/><rect x="895" y="747" width="5" height="9" fill="#f26430"/><rect x="906" y="747" width="5" height="9" fill="#f26430"/><rect x="917" y="746" width="5" height="10" fill="#f26430"/><rect x="927" y="747" width="5" height="9" fill="#f26430"/><rect x="938" y="743" width="5" height="13" fill="#f26430"/><rect x="949" y="746" width="5" height="10" fill="#f26430"/><rect x="960" y="750" width="5" height="6" fill="#f26430"/><rect x="971" y="754" width="5" height="2" fill="#f26430"/><rect x="982" y="757" width="5" height="7" fill="#c3c3c3"/><rect x="993" y="757" width="5" height="10" fill="#c3c3c3"/><rect x="1003" y="757" width="5" height="12" fill="#c3c3c3"/><rect x="1014" y="757" width="5" height="12" fill="#c3c3c3"/><rect x="1025" y="757" width="5" height="13" fill="#c3c3c3"/><rect x="1036" y="757" width="5" height="10" fill="#c3c3c3"/><rect x="1047" y="757" width="5" height="9" fill="#c3c3c3"/><rect x="1058" y="757" width="5" height="5" fill="#c3c3c3"/><rect x="1069" y="757" width="5" height="3" fill="#c3c3c3"/><rect x="1080" y="757" width="5" height="1" fill="#c3c3c3"/><rect x="1090" y="754" width="5" height="2" fill="#f26430"/><rect x="1101" y="749" width="5" height="7" fill="#f26430"/><rect x="1112" y="745" width="5" height="11" fill="#f26430"/><rect x="1123" y="739" width="5" height="17" fill="#f26430"/><rect x="1134" y="735" width="5" height="21" fill="#f26430"/><rect x="1145" y="734" width="5" height="22" fill="#f26430"/><rect x="1156" y="735" width="5" height="21" fill="#f26430"/><rect x="1166" y="732" width="5" height="24" fill="#f26430"/><rect x="1177" y="726" width="5" height="30" fill="#f26430"/><rect x="1188" y="722" width="5" height="34" fill="#f26430"/><rect x="1199" y="706" width="5" height="50" fill="#f26430"/><rect x="1210" y="698" width="5" height="58" fill="#f26430"/><rect x="1221" y="705" width="5" height="51" fill="#f26430"/><rect x="1232" y="710" width="5" height="46" fill="#f26430"/><rect x="1243" y="719" width="5" height="37" fill="#f26430"/><rect x="1253" y="727" width="5" height="29" fill="#f26430"/><rect x="1264" y="747" width="5" height="9" fill="#f26430"/><rect x="1275" y="757" width="5" height="3" fill="#c3c3c3"/><rect x="1286" y="757" width="5" height="13" fill="#c3c3c3"/><rect x="1297" y="757" width="5" height="21" fill="#c3c3c3"/><rect x="1308" y="757" width="5" height="26" fill="#c3c3c3"/><rect x="1319" y="757" width="5" height="27" fill="#c3c3c3"/><rect x="1329" y="757" width="5" height="16" fill="#c3c3c3"/><rect x="1340" y="757" width="5" height="11" fill="#c3c3c3"/><rect x="1351" y="757" width="5" height="15" fill="#c3c3c3"/><rect x="1362" y="757" width="5" height="20" fill="#c3c3c3"/><rect x="1373" y="757" width="5" height="20" fill="#c3c3c3"/><rect x="1384" y="757" width="5" height="21" fill="#c3c3c3"/><rect x="1395" y="757" width="5" height="18" fill="#c3c3c3"/><rect x="1406" y="757" width="5" height="12" fill="#c3c3c3"/><rect x="1416" y="757" width="5" height="11" fill="#c3c3c3"/><rect x="1427" y="757" width="5" height="2" fill="#c3c3c3"/><rect x="1438" y="748" width="5" height="8" fill="#f26430"/><rect x="1449" y="725" width="5" height="31" fill="#f26430"/><rect x="38" y="393" width="1436" height="1" fill="#000"/><rect x="38" y="395" width="1436" height="1" fill="#000"/></g>
<g><line x1="38" y1="305.5" x2="1473" y2="205.1" stroke="#111" stroke-width="1.3"/><line x1="38" y1="381.6" x2="1473" y2="271.1" stroke="#111" stroke-width="1.3"/><polyline points="60.5,484.2 118.0,479.5 169.6,476.3 224.0,472.1 278.6,468.2 330.0,464.0 387.5,460.1 441.0,456.2 495.6,452.3 550.1,447.9 603.7,443.4 659.0,438.9 713.5,436.0 768.0,432.5 824.6,428.6 877.2,426.0 908.3,423.6 985.0,418.1 1040.2,415.0 1071.0,413.2 1093.1,410.6 1148.3,404.2 1174.7,400.3 1202.0,395.3 1224.1,390.8 1257.2,387.1 1279.3,383.5 1312.4,379.0 1340.0,373.4 1355.7,370.3 1387.5,364.6 1419.4,359.8 1451.2,354.1" fill="none" stroke="#b8283c" stroke-width="1.2" stroke-linejoin="round"/><polyline points="60.5,440.3 135.5,440.3 148.0,439.4 224.0,439.4 256.0,438.4 278.6,436.4 293.0,435.7 322.5,433.1 340.0,430.6 387.5,426.4 419.6,423.1 441.0,419.6 495.6,407.5 550.1,395.8 603.7,384.2 630.0,377.7 650.0,374.7 683.8,370.5 713.3,368.1 734.4,365.0 767.3,361.3 780.0,359.9 824.6,353.6 877.2,346.8 920.0,340.9 958.5,333.8 985.0,330.5 1000.0,329.6 1040.2,326.1 1071.0,323.2 1093.1,320.2 1119.6,316.6 1148.3,311.8 1174.7,305.6 1190.0,301.2 1202.0,295.7 1224.1,284.9 1257.2,273.7 1290.3,264.2 1312.4,257.6 1330.0,252.7 1365.4,243.2 1389.0,235.9 1419.5,228.3 1439.7,221.5 1451.5,216.0" fill="none" stroke="#2222a8" stroke-width="1.2" stroke-linejoin="round"/><polyline points="60.5,458.1 75.0,459.8 93.6,461.4 116.0,456.9 169.6,445.2 224.1,432.1 256.2,424.9 278.6,419.1 330.0,404.5 387.5,392.7 441.0,383.4 495.6,371.0 550.1,362.6 565.7,359.8 590.0,354.6 603.9,351.6 625.7,346.9 653.0,344.6 665.0,344.4 684.3,345.4 713.5,347.1 740.8,346.8 768.0,346.4 799.5,346.3 832.7,343.3 855.0,340.4 874.3,337.5 899.2,330.0 910.0,326.5 931.0,320.6 954.1,313.5 985.0,307.8 1015.9,304.7 1040.2,301.8 1071.0,299.0 1093.1,295.2 1119.6,289.3 1148.3,283.1 1159.3,280.9 1175.0,275.3 1190.0,267.6 1202.0,257.6 1220.0,243.5 1237.2,232.7 1254.3,219.9 1271.5,210.4 1288.6,204.0 1305.8,198.0 1320.6,192.8 1344.5,184.5 1365.4,177.4 1381.3,173.5 1393.6,171.6 1405.8,170.4 1418.0,170.0 1430.0,169.7 1440.0,168.0 1446.3,165.5 1451.8,162.2" fill="none" stroke="#2b8a2b" stroke-width="1.2" stroke-linejoin="round"/><line x1="60" y1="756.5" x2="1452" y2="756.5" stroke="#000" stroke-width="1" stroke-dasharray="6 3" shape-rendering="crispEdges"/><polyline points="60.2,772.5 82.5,767.9 94.6,766.8 114.8,762.8 132.3,756.7 151.2,751.3 170.1,744.6 186.2,739.6 201.1,735.8 213.2,731.8 226.7,727.7 238.0,724.8 256.0,721.8 278.0,717.7 298.8,713.1 320.9,709.2 343.0,706.0 365.0,704.0 385.8,705.7 407.9,707.5 420.0,708.3 430.4,709.6 452.5,709.9 474.5,707.9 495.3,705.3 518.7,703.4 549.9,703.4 562.9,702.3 582.3,701.4 604.4,701.0 613.9,701.4 625.6,703.4 647.7,705.6 658.0,708.8 671.0,713.4 690.5,723.5 700.9,727.7 712.6,732.6 733.4,738.3 746.4,739.6 767.1,741.7 778.8,740.4 799.6,738.3 831.2,730.4 862.3,723.2 898.7,714.8 929.9,707.4 950.6,701.4 962.3,699.2 974.0,697.9 984.4,699.9 1000.0,704.8 1026.8,712.2 1048.8,716.6 1069.4,719.6 1084.1,719.6 1095.9,718.1 1113.5,713.2 1131.2,704.9 1147.4,697.5 1160.0,691.5 1176.8,679.9 1190.3,668.8 1202.0,654.9 1212.4,640.1 1223.4,627.6 1234.4,616.6 1244.7,607.1 1255.7,600.4 1266.8,597.5 1277.0,598.5 1288.8,601.9 1300.0,607.8 1310.6,615.0 1331.2,624.8 1342.8,628.1 1353.1,631.7 1364.7,636.9 1375.0,642.3 1386.5,647.2 1396.8,651.8 1408.4,655.1 1418.7,658.2 1430.3,658.2 1440.6,656.4 1451.4,648.7" fill="none" stroke="#1a1a1a" stroke-width="1.2" stroke-linejoin="round"/><polyline points="60.2,765.5 82.5,761.2 94.6,761.2 104.0,758.7 113.5,753.1 127.0,746.3 140.4,739.9 158.0,733.4 172.8,730.4 190.3,727.7 201.1,725.0 213.2,717.6 224.0,715.9 238.0,714.9 244.3,714.4 256.6,715.3 278.0,708.8 298.8,703.4 309.9,704.4 332.0,700.1 343.0,700.4 353.4,702.3 363.8,700.1 374.2,704.9 385.8,706.6 407.9,712.2 419.6,712.2 441.4,711.2 461.6,708.6 474.5,701.8 495.3,699.5 508.3,699.5 523.9,703.1 549.9,703.1 559.0,700.5 572.0,700.5 582.3,698.4 590.1,700.8 603.1,700.5 612.0,703.5 623.0,706.6 647.7,711.4 658.0,717.3 670.0,730.6 681.8,742.0 691.6,744.3 713.0,749.2 721.8,750.5 732.5,747.2 746.0,745.2 755.8,744.7 767.5,741.9 778.8,738.1 791.8,732.9 810.0,727.0 821.4,723.0 842.9,717.4 862.3,711.8 877.9,708.7 898.7,705.1 929.9,697.0 940.3,690.5 950.6,690.5 963.6,692.7 974.0,696.0 984.4,707.0 995.0,714.0 1016.5,721.5 1038.5,724.7 1048.8,725.4 1060.6,723.2 1072.4,721.8 1084.1,719.1 1095.9,714.4 1113.5,702.6 1125.3,690.1 1137.1,681.3 1147.4,674.7 1157.6,669.6 1169.4,660.0 1180.0,646.8 1190.3,635.0 1202.0,607.0 1212.4,582.4 1223.4,576.9 1234.4,570.6 1244.7,569.1 1255.7,570.3 1266.8,587.9 1277.0,601.2 1288.8,618.8 1300.2,630.6 1310.9,639.5 1320.9,647.2 1331.2,642.8 1342.8,638.9 1353.1,646.1 1364.7,657.5 1375.0,663.4 1386.5,670.3 1396.8,670.3 1408.4,668.0 1418.7,668.0 1430.3,659.0 1440.6,647.9 1451.4,615.7" fill="none" stroke="#b8283c" stroke-width="1.2" stroke-linejoin="round"/><polygon points="196.9,525.1 205.0,525.1 200.95,520.5" fill="#22a322" stroke="#1a801a" stroke-width="0.5"/><polygon points="370.8,536.3 379.1,536.3 374.9,541.0999999999999" fill="#d8181e" stroke="#a81418" stroke-width="0.5"/><polygon points="533.8,536.3 542.1,536.3 537.9,541.0999999999999" fill="#d8181e" stroke="#a81418" stroke-width="0.5"/><polygon points="609.8,536.3 618.1,536.3 613.9,541.0999999999999" fill="#d8181e" stroke="#a81418" stroke-width="0.5"/><polygon points="979.8,536.3 988.1,536.3 983.9,541.0999999999999" fill="#d8181e" stroke="#a81418" stroke-width="0.5"/><polygon points="1272.8,536.3 1281.1,536.3 1276.9,541.0999999999999" fill="#d8181e" stroke="#a81418" stroke-width="0.5"/><polygon points="457.9,793.2 466.0,793.2 461.95,788.6" fill="#22a322" stroke="#1a801a" stroke-width="0.5"/><polygon points="544.9,793.2 553.0,793.2 548.95,788.6" fill="#22a322" stroke="#1a801a" stroke-width="0.5"/><polygon points="772.9,793.2 781.0,793.2 776.95,788.6" fill="#22a322" stroke="#1a801a" stroke-width="0.5"/><polygon points="1087.9,793.2 1096.0,793.2 1091.95,788.6" fill="#22a322" stroke="#1a801a" stroke-width="0.5"/><polygon points="1435.9,793.2 1444.0,793.2 1439.95,788.6" fill="#22a322" stroke="#1a801a" stroke-width="0.5"/></g>
<g shape-rendering="crispEdges"><rect x="37.5" y="36.5" width="1437" height="492" fill="none" stroke="#000" stroke-width="1"/><rect x="37.5" y="533.5" width="1437" height="263" fill="none" stroke="#000" stroke-width="1"/></g>
<g class="gt"><text x="30" y="74" text-anchor="end" font-family="Liberation Sans, sans-serif" font-size="12" fill="#222">92%</text><text x="1481" y="74" font-family="Liberation Sans, sans-serif" font-size="12" fill="#222">2'800</text><text x="30" y="95" text-anchor="end" font-family="Liberation Sans, sans-serif" font-size="12" fill="#222">87%</text><text x="1481" y="95" font-family="Liberation Sans, sans-serif" font-size="12" fill="#222">2'700</text><text x="30" y="118" text-anchor="end" font-family="Liberation Sans, sans-serif" font-size="12" fill="#222">82%</text><text x="1481" y="118" font-family="Liberation Sans, sans-serif" font-size="12" fill="#222">2'600</text><text x="30" y="129" text-anchor="end" font-family="Liberation Sans, sans-serif" font-size="12" fill="#222">79%</text><text x="1481" y="129" font-family="Liberation Sans, sans-serif" font-size="12" fill="#222">2'550</text><text x="30" y="141" text-anchor="end" font-family="Liberation Sans, sans-serif" font-size="12" fill="#222">76%</text><text x="1481" y="141" font-family="Liberation Sans, sans-serif" font-size="12" fill="#222">2'500</text><text x="30" y="153" text-anchor="end" font-family="Liberation Sans, sans-serif" font-size="12" fill="#222">74%</text><text x="1481" y="153" font-family="Liberation Sans, sans-serif" font-size="12" fill="#222">2'450</text><text x="30" y="165" text-anchor="end" font-family="Liberation Sans, sans-serif" font-size="12" fill="#222">71%</text><text x="1481" y="165" font-family="Liberation Sans, sans-serif" font-size="12" fill="#222">2'400</text><text x="30" y="178" text-anchor="end" font-family="Liberation Sans, sans-serif" font-size="12" fill="#222">68%</text><text x="1481" y="178" font-family="Liberation Sans, sans-serif" font-size="12" fill="#222">2'350</text><text x="30" y="191" text-anchor="end" font-family="Liberation Sans, sans-serif" font-size="12" fill="#222">65%</text><text x="1481" y="191" font-family="Liberation Sans, sans-serif" font-size="12" fill="#222">2'300</text><text x="30" y="204" text-anchor="end" font-family="Liberation Sans, sans-serif" font-size="12" fill="#222">62%</text><text x="1481" y="204" font-family="Liberation Sans, sans-serif" font-size="12" fill="#222">2'250</text><text x="30" y="217" text-anchor="end" font-family="Liberation Sans, sans-serif" font-size="12" fill="#222">59%</text><text x="1481" y="217" font-family="Liberation Sans, sans-serif" font-size="12" fill="#222">2'200</text><text x="30" y="231" text-anchor="end" font-family="Liberation Sans, sans-serif" font-size="12" fill="#222">56%</text><text x="1481" y="231" font-family="Liberation Sans, sans-serif" font-size="12" fill="#222">2'150</text><text x="30" y="245" text-anchor="end" font-family="Liberation Sans, sans-serif" font-size="12" fill="#222">53%</text><text x="1481" y="245" font-family="Liberation Sans, sans-serif" font-size="12" fill="#222">2'100</text><text x="30" y="259" text-anchor="end" font-family="Liberation Sans, sans-serif" font-size="12" fill="#222">49%</text><text x="1481" y="259" font-family="Liberation Sans, sans-serif" font-size="12" fill="#222">2'050</text><text x="30" y="274" text-anchor="end" font-family="Liberation Sans, sans-serif" font-size="12" fill="#222">46%</text><text x="1481" y="274" font-family="Liberation Sans, sans-serif" font-size="12" fill="#222">2'000</text><text x="30" y="289" text-anchor="end" font-family="Liberation Sans, sans-serif" font-size="12" fill="#222">42%</text><text x="1481" y="289" font-family="Liberation Sans, sans-serif" font-size="12" fill="#222">1'950</text><text x="30" y="304" text-anchor="end" font-family="Liberation Sans, sans-serif" font-size="12" fill="#222">39%</text><text x="1481" y="304" font-family="Liberation Sans, sans-serif" font-size="12" fill="#222">1'900</text><text x="30" y="320" text-anchor="end" font-family="Liberation Sans, sans-serif" font-size="12" fill="#222">35%</text><text x="1481" y="320" font-family="Liberation Sans, sans-serif" font-size="12" fill="#222">1'850</text><text x="30" y="337" text-anchor="end" font-family="Liberation Sans, sans-serif" font-size="12" fill="#222">31%</text><text x="1481" y="337" font-family="Liberation Sans, sans-serif" font-size="12" fill="#222">1'800</text><text x="30" y="353" text-anchor="end" font-family="Liberation Sans, sans-serif" font-size="12" fill="#222">28%</text><text x="1481" y="353" font-family="Liberation Sans, sans-serif" font-size="12" fill="#222">1'750</text><text x="30" y="371" text-anchor="end" font-family="Liberation Sans, sans-serif" font-size="12" fill="#222">24%</text><text x="1481" y="371" font-family="Liberation Sans, sans-serif" font-size="12" fill="#222">1'700</text><text x="30" y="388" text-anchor="end" font-family="Liberation Sans, sans-serif" font-size="12" fill="#222">20%</text><text x="1481" y="388" font-family="Liberation Sans, sans-serif" font-size="12" fill="#222">1'650</text><text x="30" y="407" text-anchor="end" font-family="Liberation Sans, sans-serif" font-size="12" fill="#222">15%</text><text x="1481" y="407" font-family="Liberation Sans, sans-serif" font-size="12" fill="#222">1'600</text><text x="30" y="426" text-anchor="end" font-family="Liberation Sans, sans-serif" font-size="12" fill="#222">11%</text><text x="1481" y="426" font-family="Liberation Sans, sans-serif" font-size="12" fill="#222">1'550</text><text x="30" y="445" text-anchor="end" font-family="Liberation Sans, sans-serif" font-size="12" fill="#222">7%</text><text x="1481" y="445" font-family="Liberation Sans, sans-serif" font-size="12" fill="#222">1'500</text><text x="30" y="465" text-anchor="end" font-family="Liberation Sans, sans-serif" font-size="12" fill="#222">2%</text><text x="1481" y="465" font-family="Liberation Sans, sans-serif" font-size="12" fill="#222">1'450</text><text x="30" y="486" text-anchor="end" font-family="Liberation Sans, sans-serif" font-size="12" fill="#222">-3%</text><text x="1481" y="486" font-family="Liberation Sans, sans-serif" font-size="12" fill="#222">1'400</text><text x="30" y="508" text-anchor="end" font-family="Liberation Sans, sans-serif" font-size="12" fill="#222">-8%</text><text x="1481" y="508" font-family="Liberation Sans, sans-serif" font-size="12" fill="#222">1'350</text><text x="31" y="799" text-anchor="end" font-family="Liberation Sans, sans-serif" font-size="12" fill="#222">-30</text><text x="31" y="786" text-anchor="end" font-family="Liberation Sans, sans-serif" font-size="12" fill="#222">-20</text><text x="31" y="772" text-anchor="end" font-family="Liberation Sans, sans-serif" font-size="12" fill="#222">-10</text><text x="31" y="759" text-anchor="end" font-family="Liberation Sans, sans-serif" font-size="12" fill="#222">0</text><text x="31" y="746" text-anchor="end" font-family="Liberation Sans, sans-serif" font-size="12" fill="#222">10</text><text x="31" y="733" text-anchor="end" font-family="Liberation Sans, sans-serif" font-size="12" fill="#222">20</text><text x="31" y="719" text-anchor="end" font-family="Liberation Sans, sans-serif" font-size="12" fill="#222">30</text><text x="31" y="706" text-anchor="end" font-family="Liberation Sans, sans-serif" font-size="12" fill="#222">40</text><text x="31" y="693" text-anchor="end" font-family="Liberation Sans, sans-serif" font-size="12" fill="#222">50</text><text x="31" y="680" text-anchor="end" font-family="Liberation Sans, sans-serif" font-size="12" fill="#222">60</text><text x="31" y="666" text-anchor="end" font-family="Liberation Sans, sans-serif" font-size="12" fill="#222">70</text><text x="31" y="653" text-anchor="end" font-family="Liberation Sans, sans-serif" font-size="12" fill="#222">80</text><text x="31" y="640" text-anchor="end" font-family="Liberation Sans, sans-serif" font-size="12" fill="#222">90</text><text x="31" y="626" text-anchor="end" font-family="Liberation Sans, sans-serif" font-size="12" fill="#222">100</text><text x="31" y="613" text-anchor="end" font-family="Liberation Sans, sans-serif" font-size="12" fill="#222">110</text><text x="31" y="600" text-anchor="end" font-family="Liberation Sans, sans-serif" font-size="12" fill="#222">120</text><text x="31" y="587" text-anchor="end" font-family="Liberation Sans, sans-serif" font-size="12" fill="#222">130</text><text x="31" y="573" text-anchor="end" font-family="Liberation Sans, sans-serif" font-size="12" fill="#222">140</text><text x="31" y="560" text-anchor="end" font-family="Liberation Sans, sans-serif" font-size="12" fill="#222">150</text><text x="62.5" y="808" text-anchor="middle" font-family="Liberation Sans, sans-serif" font-size="12" font-weight="bold" fill="#222">Aug/19</text><text x="126.5" y="808" text-anchor="middle" font-family="Liberation Sans, sans-serif" font-size="12" font-weight="bold" fill="#222">Sep</text><text x="169.5" y="808" text-anchor="middle" font-family="Liberation Sans, sans-serif" font-size="12" fill="#222">06</text><text x="224.5" y="808" text-anchor="middle" font-family="Liberation Sans, sans-serif" font-size="12" fill="#222">13</text><text x="278.5" y="808" text-anchor="middle" font-family="Liberation Sans, sans-serif" font-size="12" fill="#222">20</text><text x="354.5" y="808" text-anchor="middle" font-family="Liberation Sans, sans-serif" font-size="12" font-weight="bold" fill="#222">Oct</text><text x="387.5" y="808" text-anchor="middle" font-family="Liberation Sans, sans-serif" font-size="12" fill="#222">04</text><text x="441.5" y="808" text-anchor="middle" font-family="Liberation Sans, sans-serif" font-size="12" fill="#222">11</text><text x="495.5" y="808" text-anchor="middle" font-family="Liberation Sans, sans-serif" font-size="12" fill="#222">18</text><text x="550.5" y="808" text-anchor="middle" font-family="Liberation Sans, sans-serif" font-size="12" fill="#222">25</text><text x="604.5" y="808" text-anchor="middle" font-family="Liberation Sans, sans-serif" font-size="12" font-weight="bold" fill="#222">Nov</text><text x="658.5" y="808" text-anchor="middle" font-family="Liberation Sans, sans-serif" font-size="12" fill="#222">08</text><text x="713.5" y="808" text-anchor="middle" font-family="Liberation Sans, sans-serif" font-size="12" fill="#222">15</text><text x="767.5" y="808" text-anchor="middle" font-family="Liberation Sans, sans-serif" font-size="12" fill="#222">22</text><text x="832.5" y="808" text-anchor="middle" font-family="Liberation Sans, sans-serif" font-size="12" font-weight="bold" fill="#222">Dec</text><text x="876.5" y="808" text-anchor="middle" font-family="Liberation Sans, sans-serif" font-size="12" fill="#222">06</text><text x="930.5" y="808" text-anchor="middle" font-family="Liberation Sans, sans-serif" font-size="12" fill="#222">13</text><text x="984.5" y="808" text-anchor="middle" font-family="Liberation Sans, sans-serif" font-size="12" fill="#222">20</text><text x="1071.5" y="808" text-anchor="middle" font-family="Liberation Sans, sans-serif" font-size="12" font-weight="bold" fill="#222">Jan/20</text><text x="1147.5" y="808" text-anchor="middle" font-family="Liberation Sans, sans-serif" font-size="12" fill="#222">10</text><text x="1202.5" y="808" text-anchor="middle" font-family="Liberation Sans, sans-serif" font-size="12" fill="#222">17</text><text x="1256.5" y="808" text-anchor="middle" font-family="Liberation Sans, sans-serif" font-size="12" fill="#222">24</text><text x="1321.5" y="808" text-anchor="middle" font-family="Liberation Sans, sans-serif" font-size="12" font-weight="bold" fill="#222">Feb</text><text x="1365.5" y="808" text-anchor="middle" font-family="Liberation Sans, sans-serif" font-size="12" fill="#222">07</text><text x="1419.5" y="808" text-anchor="middle" font-family="Liberation Sans, sans-serif" font-size="12" fill="#222">14</text><text x="38.85" y="47.8" font-family="Liberation Sans, sans-serif" font-size="9.3" fill="#e07058" textLength="38.75" lengthAdjust="spacingAndGlyphs">XPD,CO</text><text x="80.49" y="47.8" font-family="Liberation Sans, sans-serif" font-size="9.3" fill="#333" textLength="119.76" lengthAdjust="spacingAndGlyphs">Moving Average 20/50/200</text><text x="38.79" y="545.2" font-family="Liberation Sans, sans-serif" font-size="9.1" fill="#333" textLength="103.49" lengthAdjust="spacingAndGlyphs">MACD 26/12/9 Volume</text></g>
<g class="gt"><rect x="0" y="0" width="1540" height="18" fill="#ff6a33"/><rect x="0" y="17" width="1540" height="1" fill="#e8602e"/><text x="628.68" y="11" font-family="Liberation Sans, sans-serif" font-size="12" font-weight="bold" fill="#fff3e0" textLength="156.79" lengthAdjust="spacingAndGlyphs">PALLADIUM 1OZ (XPD)</text><text x="805.38" y="11" font-family="Liberation Sans, sans-serif" font-size="12.5" fill="#fff3e0" textLength="157.41" lengthAdjust="spacingAndGlyphs">23/08/2019 - 19/02/2020</text><text x="-5.77" y="11" font-family="Liberation Sans, sans-serif" font-size="12.5" fill="#fff3e0" textLength="7.96" lengthAdjust="spacingAndGlyphs">3</text><path d="M11.2,1.4 L7.3,12.9" stroke="#fff3e0" stroke-width="1.2"/><text x="16.27" y="11" font-family="Liberation Sans, sans-serif" font-size="12.5" fill="#fff3e0" textLength="7.81" lengthAdjust="spacingAndGlyphs">8</text><polygon points="31,1.5 37.5,7 31,12.5" fill="#ffc8b4"/><circle cx="1453.5" cy="6.6" r="6.3" fill="none" stroke="#ffd8b8" stroke-width="1.1"/><rect x="1449.5" y="6" width="8" height="1.4" fill="#ffd8b8"/><circle cx="1471.8" cy="6.8" r="6.3" fill="none" stroke="#ffd8b8" stroke-width="1.1"/><rect x="1467.8" y="6.1" width="8" height="1.4" fill="#ffd8b8"/><rect x="1471.1" y="2.8" width="1.4" height="8" fill="#ffd8b8"/><polygon points="1492,1.5 1486,7 1492,12.5" fill="#ffd0c0"/><polygon points="1506,1.5 1512,7 1506,12.5" fill="#ffd0c0"/><path d="M1520,0 L1533,13 M1533,0 L1520,13" stroke="#ffe0c8" stroke-width="1.5"/><text x="650.17" y="30.7" font-family="Liberation Sans, sans-serif" font-size="12.5" font-weight="bold" fill="#222" textLength="37.58" lengthAdjust="spacingAndGlyphs">2'652</text><text x="691.61" y="30.7" font-family="Liberation Sans, sans-serif" font-size="12.5" fill="#5cb050" textLength="51.69" lengthAdjust="spacingAndGlyphs">(0.55%)</text><text x="746.99" y="30.7" font-family="Liberation Sans, sans-serif" font-size="12.5" fill="#333" textLength="119.2" lengthAdjust="spacingAndGlyphs">2'649.50 / 2'654.50</text><rect x="1539" y="18" width="1" height="798" fill="#c87050"/></g>
</svg>
</body></html>
